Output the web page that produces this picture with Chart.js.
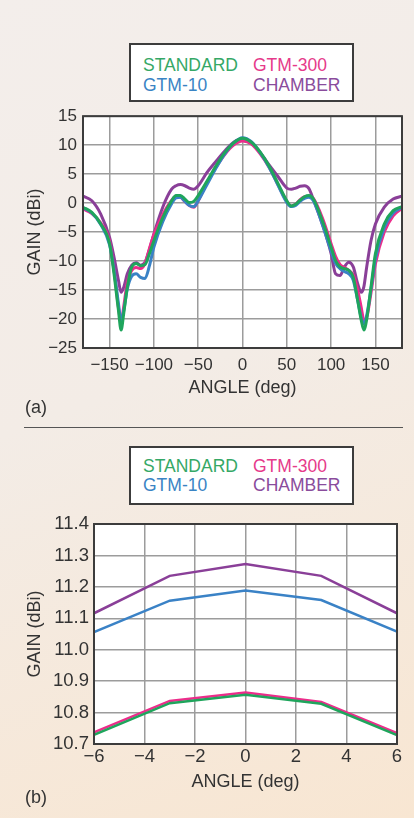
<!DOCTYPE html>
<html lang="en">
  <head>
    <meta charset="UTF-8" />
    <title>Antenna Gain vs Angle</title>
    <script src="https://cdn.jsdelivr.net/npm/chart.js"></script>
    <style>
      body {
        margin: 0;
        width: 414px;
        height: 818px;
        position: relative;
        overflow: hidden;
        font-family: "Liberation Sans", Arial, sans-serif;
        background: linear-gradient(160deg, #f3eeeb 0%, #f3ece6 45%, #f8e6d2 100%);
      }
      .chart-box {
        position: absolute;
        left: 0;
        width: 414px;
      }
      .legend {
        position: absolute;
        left: 129px;
        width: 221px;
        height: 55px;
        border: 2px solid #3c3c3c;
        background: #fff;
        font-size: 17.5px;
        line-height: 20px;
      }
      .legend span {
        position: absolute;
        white-space: nowrap;
      }
      .sep {
        position: absolute;
        left: 24px;
        top: 427px;
        width: 379px;
        height: 1px;
        background: #555;
      }
      .panel {
        position: absolute;
        left: 25px;
        font-size: 18px;
        color: #333;
      }
    </style>
  </head>
  <body>
    <div class="legend" style="top: 43px">
      <span style="left: 12px; top: 10px; color: #35a866">STANDARD</span>
      <span style="left: 122px; top: 10px; color: #e63a8a">GTM-300</span>
      <span style="left: 12px; top: 30px; color: #3a84c4">GTM-10</span>
      <span style="left: 122px; top: 30px; color: #8a4c9c">CHAMBER</span>
    </div>
    <div class="chart-box" style="top: 100px; height: 310px">
      <canvas id="chartA"></canvas>
    </div>
    <div class="panel" style="top: 397px">(a)</div>

    <div class="sep"></div>

    <div class="legend" style="top: 446px">
      <span style="left: 12px; top: 8px; color: #35a866">STANDARD</span>
      <span style="left: 122px; top: 8px; color: #e63a8a">GTM-300</span>
      <span style="left: 12px; top: 27px; color: #3a84c4">GTM-10</span>
      <span style="left: 122px; top: 27px; color: #8a4c9c">CHAMBER</span>
    </div>
    <div class="chart-box" style="top: 505px; height: 300px">
      <canvas id="chartB"></canvas>
    </div>
    <div class="panel" style="top: 787px">(b)</div>

    <script>
      // (a) full pattern, -180..180 deg
      const angleA = [
        -180, -170, -160, -150, -145, -140, -137, -134, -130, -125, -120, -115,
        -110, -105, -100, -90, -80, -75, -70, -65, -60, -55, -50, -40, -30, -20,
        -10, 0, 10, 20, 30, 40, 50, 55, 60, 65, 70, 75, 80, 90, 100, 105, 110,
        115, 120, 125, 130, 134, 137, 140, 145, 150, 160, 170, 180,
      ];
      const standardA = [
        -0.7, -1.6, -3.6, -7.0, -12.2, -18.5, -21.9, -19.0, -14.5, -11.0, -10.4,
        -10.8, -10.6, -8.7, -6.5, -2.5, 0.4, 1.3, 1.3, 0.7, 0.1, 0.3, 1.3, 3.8,
        6.4, 8.7, 10.4, 11.2, 10.5, 8.8, 6.4, 3.4, 0.4, -0.5, -0.2, 0.5, 1.1,
        1.3, 0.7, -3.0, -7.6, -9.9, -11.0, -11.3, -11.6, -12.8, -16.8, -20.2,
        -21.9, -20.2, -14.5, -8.7, -3.6, -1.3, -0.6,
      ];
      const gtm10A = [
        -0.8, -1.7, -3.7, -7.2, -11.5, -17.3, -20.3, -18.5, -14.8, -12.6, -12.2,
        -12.8, -13.0, -10.8, -7.6, -3.2, -0.1, 0.9, 1.0, 0.3, -0.4, -0.6, 0.4,
        3.2, 6.0, 8.5, 10.4, 11.3, 10.6, 8.7, 6.2, 3.1, 0.1, -0.6, -0.4, 0.3,
        0.8, 1.0, 0.4, -3.6, -8.3, -10.4, -11.3, -11.8, -12.2, -13.3, -16.8,
        -19.8, -20.8, -19.5, -14.8, -9.6, -4.2, -1.7, -0.7,
      ];
      const gtm300A = [
        -1.0, -1.8, -3.4, -6.6, -11.5, -18.0, -20.6, -17.8, -13.6, -11.6, -11.1,
        -11.3, -10.4, -7.8, -5.4, -2.0, 0.5, 1.2, 1.0, 0.3, -0.4, -0.7, 0.4,
        3.6, 6.2, 8.4, 10.0, 10.7, 10.2, 8.5, 6.2, 3.2, 0.3, -0.5, -0.2, 0.6,
        1.1, 1.2, 0.8, -2.5, -7.0, -9.2, -10.6, -11.1, -11.6, -12.4, -15.0,
        -18.0, -20.2, -19.8, -15.5, -10.5, -5.0, -2.2, -0.9,
      ];
      const chamberA = [
        1.2, 0.4, -1.9, -5.9, -9.3, -13.3, -15.4, -14.5, -12.2, -10.7, -10.3,
        -10.7, -10.2, -8.0, -5.3, -0.7, 2.4, 3.0, 3.2, 3.0, 2.6, 2.4, 3.0, 5.3,
        7.2, 9.0, 10.5, 11.1, 10.3, 8.7, 6.6, 4.6, 2.6, 2.4, 2.6, 2.9, 3.0, 2.5,
        0.6, -3.6, -8.7, -12.2, -12.5, -11.0, -10.2, -11.0, -13.9, -15.4, -14.4,
        -11.2, -6.5, -3.6, -0.7, 0.7, 1.2,
      ];
      const angleTicksA = [-150, -100, -50, 0, 50, 100, 150];
      const gainTicksA = [-25, -20, -15, -10, -5, 0, 5, 10, 15];

      // (b) main beam close-up, -6..6 deg
      const angleB = [-6, -3, 0, 3, 6];
      const standardB = [10.729, 10.83, 10.857, 10.828, 10.728];
      const gtm10B = [11.056, 11.156, 11.188, 11.158, 11.058];
      const gtm300B = [10.737, 10.837, 10.864, 10.834, 10.735];
      const chamberB = [11.116, 11.235, 11.273, 11.235, 11.116];
      const angleTicksB = [-6, -4, -2, 0, 2, 4, 6];
      const gainTicksB = [10.7, 10.8, 10.9, 11.0, 11.1, 11.2, 11.3, 11.4];

      const colors = {
        standard: "#1fa55c",
        gtm10: "#3a82c6",
        gtm300: "#ec2d8b",
        chamber: "#8a3f98",
      };

      const minus = (s) => String(s).replace("-", "\u2212");
      const toPts = (xs, ys) => xs.map((x, i) => ({ x: x, y: ys[i] }));

      // white plot area + full frame
      const frame = {
        id: "frame",
        beforeDraw(chart) {
          const a = chart.chartArea;
          chart.ctx.save();
          chart.ctx.fillStyle = "#fff";
          chart.ctx.fillRect(a.left, a.top, a.right - a.left, a.bottom - a.top);
          chart.ctx.restore();
        },
        afterDraw(chart) {
          const a = chart.chartArea;
          const ctx = chart.ctx;
          ctx.save();
          ctx.strokeStyle = "#3c3c3c";
          ctx.lineWidth = 2;
          ctx.strokeRect(a.left, a.top, a.right - a.left, a.bottom - a.top);
          ctx.restore();
        },
      };

      function makeSets(xs, std, g10, g300, ch, width, smooth) {
        const base = {
          pointRadius: 0,
          borderWidth: width,
          fill: false,
          tension: 0,
        };
        if (smooth) base.cubicInterpolationMode = "monotone";
        return [
          { ...base, label: "STANDARD", data: toPts(xs, std), borderColor: colors.standard, order: 0 },
          { ...base, label: "GTM-10", data: toPts(xs, g10), borderColor: colors.gtm10, order: 1 },
          { ...base, label: "GTM-300", data: toPts(xs, g300), borderColor: colors.gtm300, order: 2 },
          { ...base, label: "CHAMBER", data: toPts(xs, ch), borderColor: colors.chamber, order: 3 },
        ];
      }

      function makeOptions(o) {
        const tickFont = { size: o.tickSize, family: "Liberation Sans" };
        return {
          responsive: true,
          maintainAspectRatio: false,
          animation: false,
          layout: { padding: o.padding },
          plugins: { legend: { display: false }, tooltip: { enabled: false } },
          scales: {
            x: {
              type: "linear",
              min: o.xMin,
              max: o.xMax,
              afterBuildTicks: (s) => {
                s.ticks = o.xTicks.map((v) => ({ value: v }));
              },
              afterFit: (s) => {
                s.height = o.xHeight;
              },
              grid: { color: "#9c9c9c", lineWidth: 1.5, drawTicks: false },
              border: { display: false },
              ticks: {
                padding: o.xTickPad,
                color: "#333",
                font: tickFont,
                maxRotation: 0,
                callback: (v) => minus(v),
              },
              title: {
                display: true,
                text: "ANGLE (deg)",
                color: "#333",
                font: { size: 18, family: "Liberation Sans" },
                padding: { top: 0, bottom: o.xTitlePad },
              },
            },
            y: {
              min: o.yMin,
              max: o.yMax,
              afterBuildTicks: (s) => {
                s.ticks = o.yTicks.map((v) => ({ value: v }));
              },
              afterFit: (s) => {
                s.width = o.yWidth;
              },
              grid: { color: "#9c9c9c", lineWidth: 1.5, drawTicks: false },
              border: { display: false },
              ticks: {
                padding: o.yTickPad,
                color: "#333",
                font: tickFont,
                callback: o.yFmt,
              },
              title: {
                display: true,
                text: "GAIN (dBi)",
                color: "#333",
                font: { size: 18, family: "Liberation Sans" },
                padding: { top: 0, bottom: 0 },
              },
            },
          },
        };
      }

      new Chart(document.getElementById("chartA"), {
        type: "line",
        data: { datasets: makeSets(angleA, standardA, gtm10A, gtm300A, chamberA, 3, true) },
        options: makeOptions({
          padding: { left: 24, right: 12, top: 15, bottom: 0 },
          tickSize: 17,
          xMin: -180,
          xMax: 180,
          xTicks: angleTicksA,
          xHeight: 62,
          xTickPad: 7,
          xTitlePad: 11,
          yMin: -25,
          yMax: 15,
          yTicks: gainTicksA,
          yWidth: 59,
          yTickPad: 6,
          yFmt: (v) => minus(v),
        }),
        plugins: [frame],
      });

      new Chart(document.getElementById("chartB"), {
        type: "line",
        data: { datasets: makeSets(angleB, standardB, gtm10B, gtm300B, chamberB, 2.5, false) },
        options: makeOptions({
          padding: { left: 24, right: 17, top: 19, bottom: 0 },
          tickSize: 18.5,
          xMin: -6,
          xMax: 6,
          xTicks: angleTicksB,
          xHeight: 61,
          xTickPad: 2,
          xTitlePad: 12,
          yMin: 10.7,
          yMax: 11.4,
          yTicks: gainTicksB,
          yWidth: 70,
          yTickPad: 5,
          yFmt: (v) => v.toFixed(1),
        }),
        plugins: [frame],
      });
    </script>
  </body>
</html>
